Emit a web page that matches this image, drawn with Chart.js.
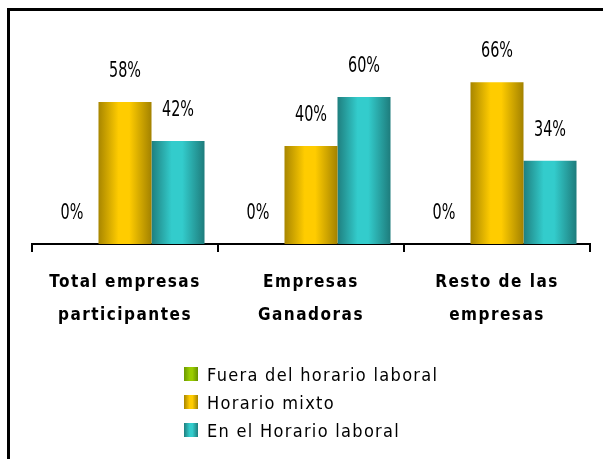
<!DOCTYPE html>
<html>
<head>
<meta charset="utf-8">
<script src="https://cdn.jsdelivr.net/npm/chart.js@4/dist/chart.umd.min.js"></script>
<style>
  html, body { margin: 0; padding: 0; background: #fff; }
  #wrap { position: relative; width: 603px; height: 459px; overflow: hidden; }
  #frame { position: absolute; left: 7px; top: 8px; width: 700px; height: 600px;
           border-top: 3px solid #000; border-left: 3px solid #000; }
  #chart { position: absolute; left: 0; top: 0; }
  #legend { position: absolute; left: 184px; top: 360px;
            font-family: 'DejaVu Sans Condensed', 'DejaVu Sans', sans-serif;
            font-size: 18px; letter-spacing: 1.3px; color: #000; }
  .item { display: flex; align-items: center; height: 28px; }
  .box { width: 14px; height: 14px; margin-right: 9px; }
</style>
</head>
<body>
<div id="wrap">
  <div id="frame"></div>
  <canvas id="chart" width="603" height="459"></canvas>
  <div id="legend"></div>
</div>
<script>
const categories = [['Total empresas', 'participantes'], ['Empresas', 'Ganadoras'], ['Resto de las', 'empresas']];
const seriesNames = ['Fuera del horario laboral', 'Horario mixto', 'En el Horario laboral'];
const fueraValues = [0, 0, 0];
const mixtoValues = [58, 40, 66];
const laboralValues = [42, 60, 34];

// dark edge -> bright middle -> dark edge, like the cylinder shading
const shades = [
    ['#6b9900', '#99cc00', '#99cc00', '#669200'],
    ['#a88600', '#ffcc00', '#ffcc00', '#a38200'],
    ['#1f7f7f', '#33cccc', '#33cccc', '#1e7c7c']
];
const stopPos = [0, 0.38, 0.58, 1];
const CAT_PCT = 0.855;
const condensed = "'DejaVu Sans Condensed', 'DejaVu Sans', sans-serif";

function barFill(context) {
    const chart = context.chart;
    const xScale = chart.scales.x;
    const colors = shades[context.datasetIndex];
    if (!xScale || !xScale.width) return colors[1];
    const groupW = xScale.width / categories.length * CAT_PCT;
    const barW = groupW / seriesNames.length;
    const left = xScale.getPixelForValue(context.dataIndex) - groupW / 2 + context.datasetIndex * barW;
    const g = chart.ctx.createLinearGradient(left, 0, left + barW, 0);
    stopPos.forEach((p, i) => g.addColorStop(p, colors[i]));
    return g;
}

// percentage text above every bar (a bit taller than wide, like the original)
const valueLabels = {
    id: 'valueLabels',
    beforeDraw(chart) {
        chart.ctx.letterSpacing = '1.5px'; // spaced category labels
    },
    afterDatasetsDraw(chart) {
        const ctx = chart.ctx;
        ctx.save();
        ctx.letterSpacing = '0px';
        ctx.font = '16px ' + condensed;
        ctx.fillStyle = '#000';
        ctx.textAlign = 'center';
        ctx.textBaseline = 'alphabetic';
        chart.data.datasets.forEach((ds, i) => {
            chart.getDatasetMeta(i).data.forEach((bar, j) => {
                ctx.save();
                ctx.translate(bar.x, bar.y - 25);
                ctx.scale(1, 1.35);
                ctx.fillText(ds.data[j] + '%', 0, 0);
                ctx.restore();
            });
        });
        ctx.restore();
    }
};

const ctx = document.getElementById('chart').getContext('2d');
const myChart = new Chart(ctx, {
    type: 'bar',
    data: {
        labels: categories,
        datasets: [
            { label: seriesNames[0], data: fueraValues, backgroundColor: barFill },
            { label: seriesNames[1], data: mixtoValues, backgroundColor: barFill },
            { label: seriesNames[2], data: laboralValues, backgroundColor: barFill }
        ]
    },
    options: {
        responsive: false,
        animation: false,
        events: [],
        datasets: {
            bar: { categoryPercentage: CAT_PCT, barPercentage: 1.0, borderWidth: 0 }
        },
        layout: { padding: { left: 32, right: 13, top: 48, bottom: 115 } },
        plugins: {
            legend: { display: false },
            tooltip: { enabled: false }
        },
        scales: {
            y: { display: false, min: 0, max: 80 },
            x: {
                afterFit: scale => { scale.height = 100; },
                border: { display: true, color: '#000', width: 2 },
                grid: { display: true, drawOnChartArea: false, drawTicks: true, tickLength: 8, color: '#000', lineWidth: 2 },
                ticks: {
                    color: '#000',
                    padding: 14,
                    maxRotation: 0,
                    autoSkip: false,
                    font: { family: condensed, size: 17, weight: 'bold', lineHeight: 33 / 17 }
                }
            }
        }
    },
    plugins: [valueLabels]
});

// legend built from the chart's datasets
const legendBox = document.getElementById('legend');
myChart.data.datasets.forEach((ds, i) => {
    const row = document.createElement('div');
    row.className = 'item';
    const box = document.createElement('span');
    box.className = 'box';
    const c = shades[i];
    box.style.background = 'linear-gradient(to right, ' + c[0] + ' 0%, ' + c[1] + ' 40%, ' + c[2] + ' 60%, ' + c[3] + ' 100%)';
    const text = document.createElement('span');
    text.textContent = ds.label;
    row.appendChild(box);
    row.appendChild(text);
    legendBox.appendChild(row);
});
</script>
</body>
</html>
